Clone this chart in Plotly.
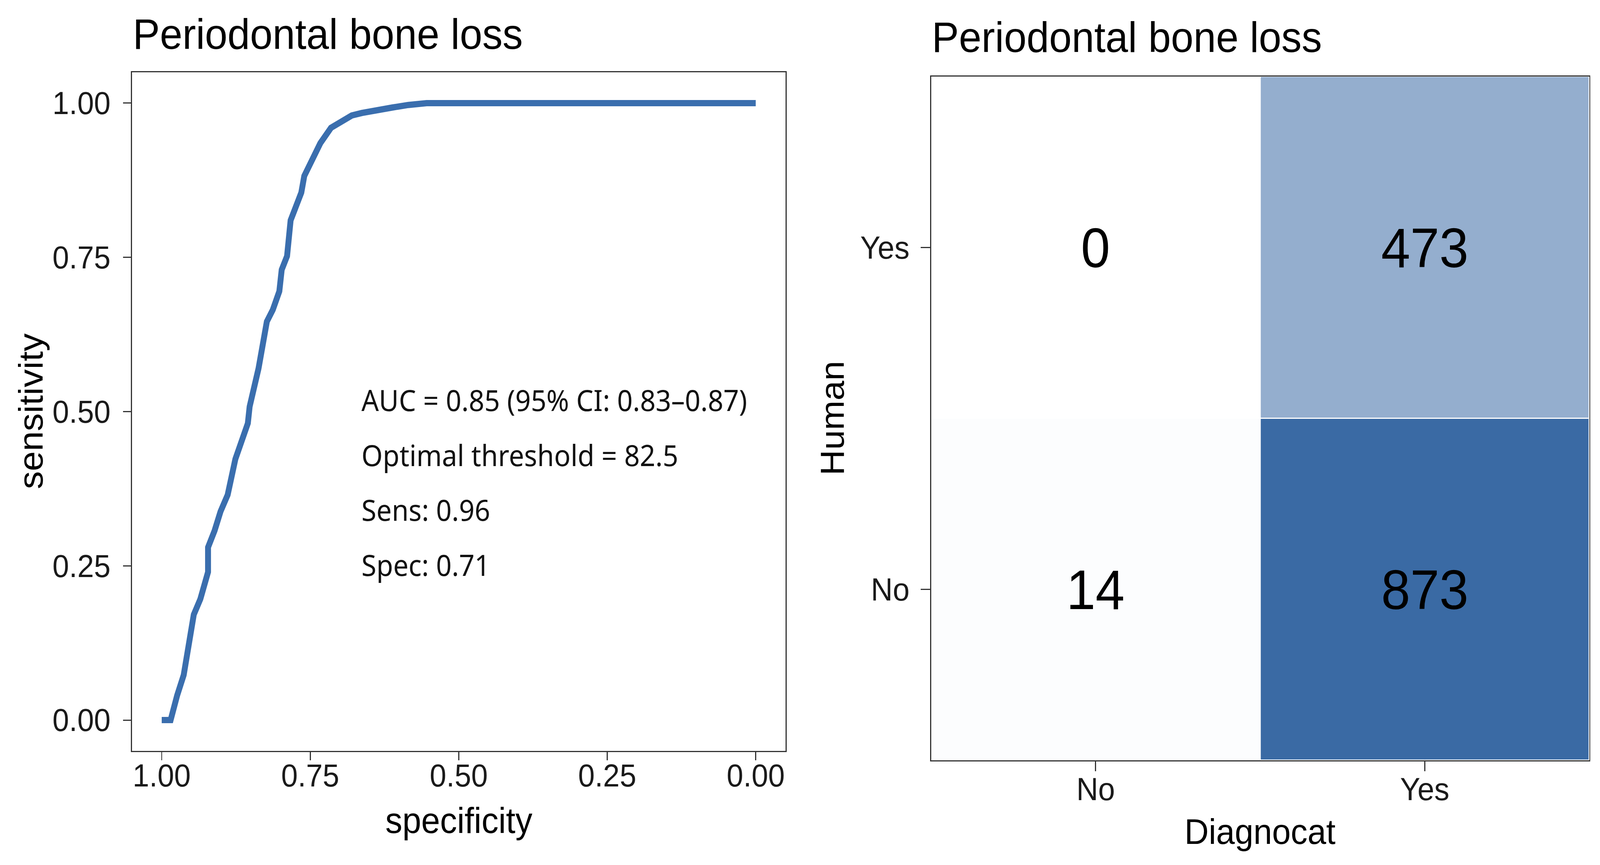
import plotly.graph_objects as go

# ROC curve (specificity runs 1 -> 0)
specificity = [1.0, 0.985, 0.974, 0.963, 0.946, 0.935, 0.922, 0.922, 0.911, 0.901,
               0.889, 0.876, 0.855, 0.852, 0.837, 0.823, 0.813, 0.802, 0.798, 0.789,
               0.783, 0.765, 0.760, 0.733, 0.715, 0.698, 0.680, 0.663, 0.632, 0.611,
               0.585, 0.554, 0.0]
sensitivity = [0.0, 0.0, 0.040, 0.073, 0.171, 0.196, 0.240, 0.280, 0.307, 0.338,
               0.365, 0.423, 0.481, 0.508, 0.570, 0.646, 0.665, 0.695, 0.730, 0.752,
               0.810, 0.855, 0.882, 0.935, 0.960, 0.969, 0.980, 0.984, 0.988, 0.993,
               0.997, 1.0, 1.0]
roc_ticks = [1.0, 0.75, 0.5, 0.25, 0.0]
roc_ticktext = ["1.00", "0.75", "0.50", "0.25", "0.00"]
roc_notes = ["AUC = 0.85 (95% CI: 0.83–0.87)", "Optimal threshold = 82.5",
             "Sens: 0.96", "Spec: 0.71"]
note_y = [0.519, 0.430, 0.341, 0.252]

# confusion matrix: rows = Human, columns = Diagnocat
cm_labels = ["No", "Yes"]
cm_counts = [[14, 873],
             [0, 473]]

title = "Periodontal bone loss"
W, H = 4339, 2214
font = "Liberation Sans, Arial, sans-serif"
line_col = "#333333"


def px_x(p):
    return p / W


def px_y(p):
    return 1 - p / H


fig = go.Figure()

fig.add_trace(go.Scatter(
    x=specificity, y=sensitivity, mode="lines",
    line=dict(color="#3A6EAE", width=16),
    xaxis="x", yaxis="y", showlegend=False, hoverinfo="skip"))

fig.add_trace(go.Heatmap(
    x=cm_labels, y=cm_labels, z=cm_counts,
    colorscale=[[0, "#FFFFFF"], [1, "#3A6AA4"]],
    zmin=0, zmax=max(max(r) for r in cm_counts),
    showscale=False, xgap=3, ygap=3,
    texttemplate="%{z}", textfont=dict(family=font, size=142, color="black"),
    xaxis="x2", yaxis="y2", hoverinfo="skip"))

axis_common = dict(showline=True, mirror=True, linecolor=line_col, linewidth=3,
                   ticks="outside", tickwidth=3, tickcolor=line_col,
                   showgrid=False, zeroline=False, automargin=False)

fig.update_layout(
    width=W, height=H,
    margin=dict(l=0, r=0, t=0, b=0, pad=0),
    paper_bgcolor="white", plot_bgcolor="white",
    template="none",
    font=dict(family=font, color="black"),
    xaxis=dict(domain=[px_x(358), px_x(2130)], range=[1.05, -0.05],
               tickvals=roc_ticks, ticktext=roc_ticktext, ticklen=21,
               tickfont=dict(size=81, color="#1a1a1a"), ticklabelstandoff=-30,
               anchor="y", **axis_common),
    yaxis=dict(domain=[px_y(1922), px_y(185)], range=[-0.05, 1.05],
               tickvals=roc_ticks, ticktext=roc_ticktext, ticklen=21,
               tickfont=dict(size=81, color="#1a1a1a"), ticklabelstandoff=18,
               anchor="x", **axis_common),
    xaxis2=dict(domain=[px_x(2525), px_x(4310)], type="category", ticklen=25,
                tickfont=dict(size=82, color="#1a1a1a"), ticklabelstandoff=-24,
                anchor="y2", **axis_common),
    yaxis2=dict(domain=[px_y(1946), px_y(196)], type="category", ticklen=25,
                tickfont=dict(size=82, color="#1a1a1a"), ticklabelstandoff=14,
                anchor="x2", **axis_common),
)

notes = [dict(x=0.665, y=yy, xref="x", yref="y", text=t, showarrow=False,
              xanchor="left", yanchor="middle",
              font=dict(family="Noto Sans, sans-serif", size=74, color="#111111"))
         for t, yy in zip(roc_notes, note_y)]

labels = [
    dict(x=px_x(358), y=px_y(86), text=title, font=dict(size=110)),
    dict(x=px_x(2525), y=px_y(95), text=title, font=dict(size=110)),
]
labels = [dict(l, xref="paper", yref="paper", showarrow=False,
               xanchor="left", yanchor="middle") for l in labels]

axis_titles = [
    dict(x=px_x(1244), y=px_y(2100), text="specificity", font=dict(size=92)),
    dict(x=px_x(84), y=px_y(1053), text="sensitivity", font=dict(size=92), textangle=-90),
    dict(x=px_x(3417), y=px_y(2128), text="Diagnocat", font=dict(size=91)),
    dict(x=px_x(2256), y=px_y(1071), text="Human", font=dict(size=91), textangle=-90),
]
axis_titles = [dict(a, xref="paper", yref="paper", showarrow=False,
                    xanchor="center", yanchor="middle") for a in axis_titles]

fig.update_layout(annotations=notes + labels + axis_titles)

# stretch the fixed-size figure over the whole viewport the page is opened in
fit_js = """
var gd = document.getElementById('{plot_id}');
document.body.style.margin = '0';
document.body.style.overflow = 'hidden';
var sx = window.innerWidth / %d, sy = window.innerHeight / %d;
gd.style.transformOrigin = '0 0';
gd.style.transform = 'scale(' + sx + ',' + sy + ')';
""" % (W, H)

fig.write_html("out.html", post_script=fit_js, config={"displayModeBar": False})
